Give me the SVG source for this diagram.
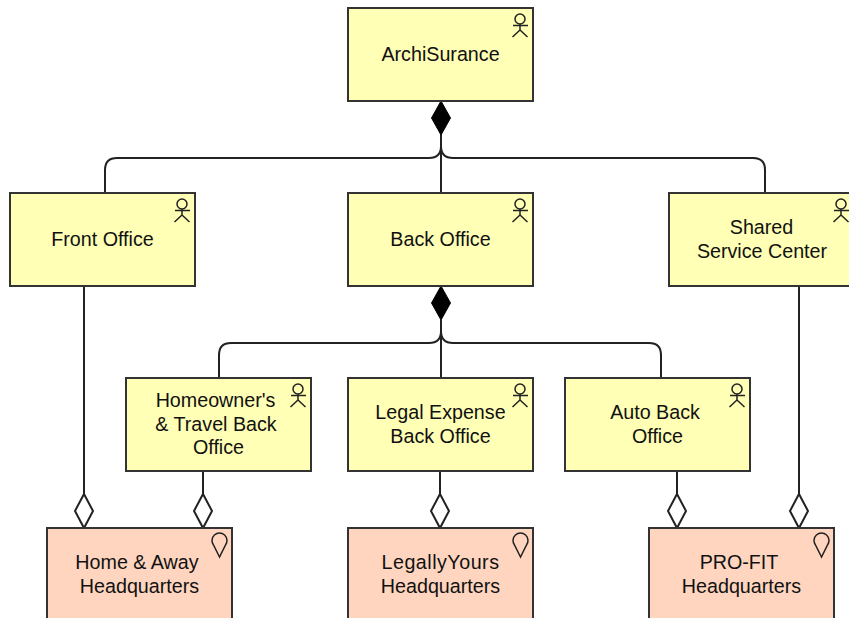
<svg xmlns="http://www.w3.org/2000/svg" width="849" height="618" viewBox="0 0 849 618">
<style>
text{font-family:"Liberation Sans",Arial,sans-serif;font-size:19.700px;fill:#111;text-anchor:middle}
.a{fill:#ffffb5;stroke:#333;stroke-width:2}
.l{fill:#ffd5bf;stroke:#333;stroke-width:2}
.i{fill:none;stroke:#222;stroke-width:1.500}
.c{fill:none;stroke:#222;stroke-width:2}
.o{fill:#fff;stroke:#222;stroke-width:2}
.f{fill:#000;stroke:#000;stroke-width:1}
</style>
<defs>
<g id="actor" class="i"><circle cx="172" cy="11" r="5"/><path d="M172 16V22M165 17.500H180M164.500 29L172 22L179.500 29"/></g>
<path id="pin" class="i" d="M172.500 29L166.600 17.200A7.500 7.500 0 1 1 178.400 17.200Z"/>
</defs>
<g id="connectors">
<path class="c" d="M441 134V193M441 146Q441 158 429 158H117Q105 158 105 170V193M441 146Q441 158 453 158H753Q765 158 765 170V193"/>
<path class="c" d="M441 320V378M441 331Q441 343 429 343H231Q219 343 219 355V378M441 331Q441 343 453 343H649Q661 343 661 355V378"/>
<path class="f" d="M441 101L450.500 118L441 135L431.500 118Z"/>
<path class="f" d="M441 286L450.500 303L441 320L431.500 303Z"/>
<path class="c" d="M84 286V494M203 471V494M440 471V494M677 471V494M799 286V494"/>
<path class="o" d="M84 494L93 511L84 528L75 511Z"/>
<path class="o" d="M203 494L212 511L203 528L194 511Z"/>
<path class="o" d="M440 494L449 511L440 528L431 511Z"/>
<path class="o" d="M677 494L686 511L677 528L668 511Z"/>
<path class="o" d="M799 494L808 511L799 528L790 511Z"/>
</g>
<g id="archisurance" transform="translate(348 8)"><rect class="a" width="185" height="93"/><use href="#actor"/><text x="92.500" y="53">ArchiSurance</text></g>
<g id="front-office" transform="translate(10 193)"><rect class="a" width="185" height="93"/><use href="#actor"/><text x="92.500" y="53">Front Office</text></g>
<g id="back-office" transform="translate(348 193)"><rect class="a" width="185" height="93"/><use href="#actor"/><text x="92.500" y="53">Back Office</text></g>
<g id="shared-service-center" transform="translate(669 193)"><rect class="a" width="185" height="93"/><use href="#actor"/><text x="92.500" y="41">Shared</text><text x="93" y="65">Service Center</text></g>
<g id="homeowners" transform="translate(126 378)"><rect class="a" width="185" height="93"/><use href="#actor"/><text x="89.500" y="29">Homeowner's</text><text x="90" y="53">&amp; Travel Back</text><text x="92.500" y="76">Office</text></g>
<g id="legal-expense" transform="translate(348 378)"><rect class="a" width="185" height="93"/><use href="#actor"/><text x="92.500" y="41">Legal Expense</text><text x="92.500" y="65">Back Office</text></g>
<g id="auto-back-office" transform="translate(565 378)"><rect class="a" width="185" height="93"/><use href="#actor"/><text x="90" y="41">Auto Back</text><text x="92.500" y="65">Office</text></g>
<g id="home-away" transform="translate(47 528)"><rect class="l" width="185" height="93"/><use href="#pin"/><text x="90" y="41">Home &amp; Away</text><text x="92.500" y="65">Headquarters</text></g>
<g id="legallyyours" transform="translate(348 528)"><rect class="l" width="185" height="93"/><use href="#pin"/><text x="92.500" y="41" style="letter-spacing:.5px">LegallyYours</text><text x="92.500" y="65">Headquarters</text></g>
<g id="pro-fit" transform="translate(649 528)"><rect class="l" width="185" height="93"/><use href="#pin"/><text x="90" y="41">PRO-FIT</text><text x="92.500" y="65">Headquarters</text></g>
</svg>
